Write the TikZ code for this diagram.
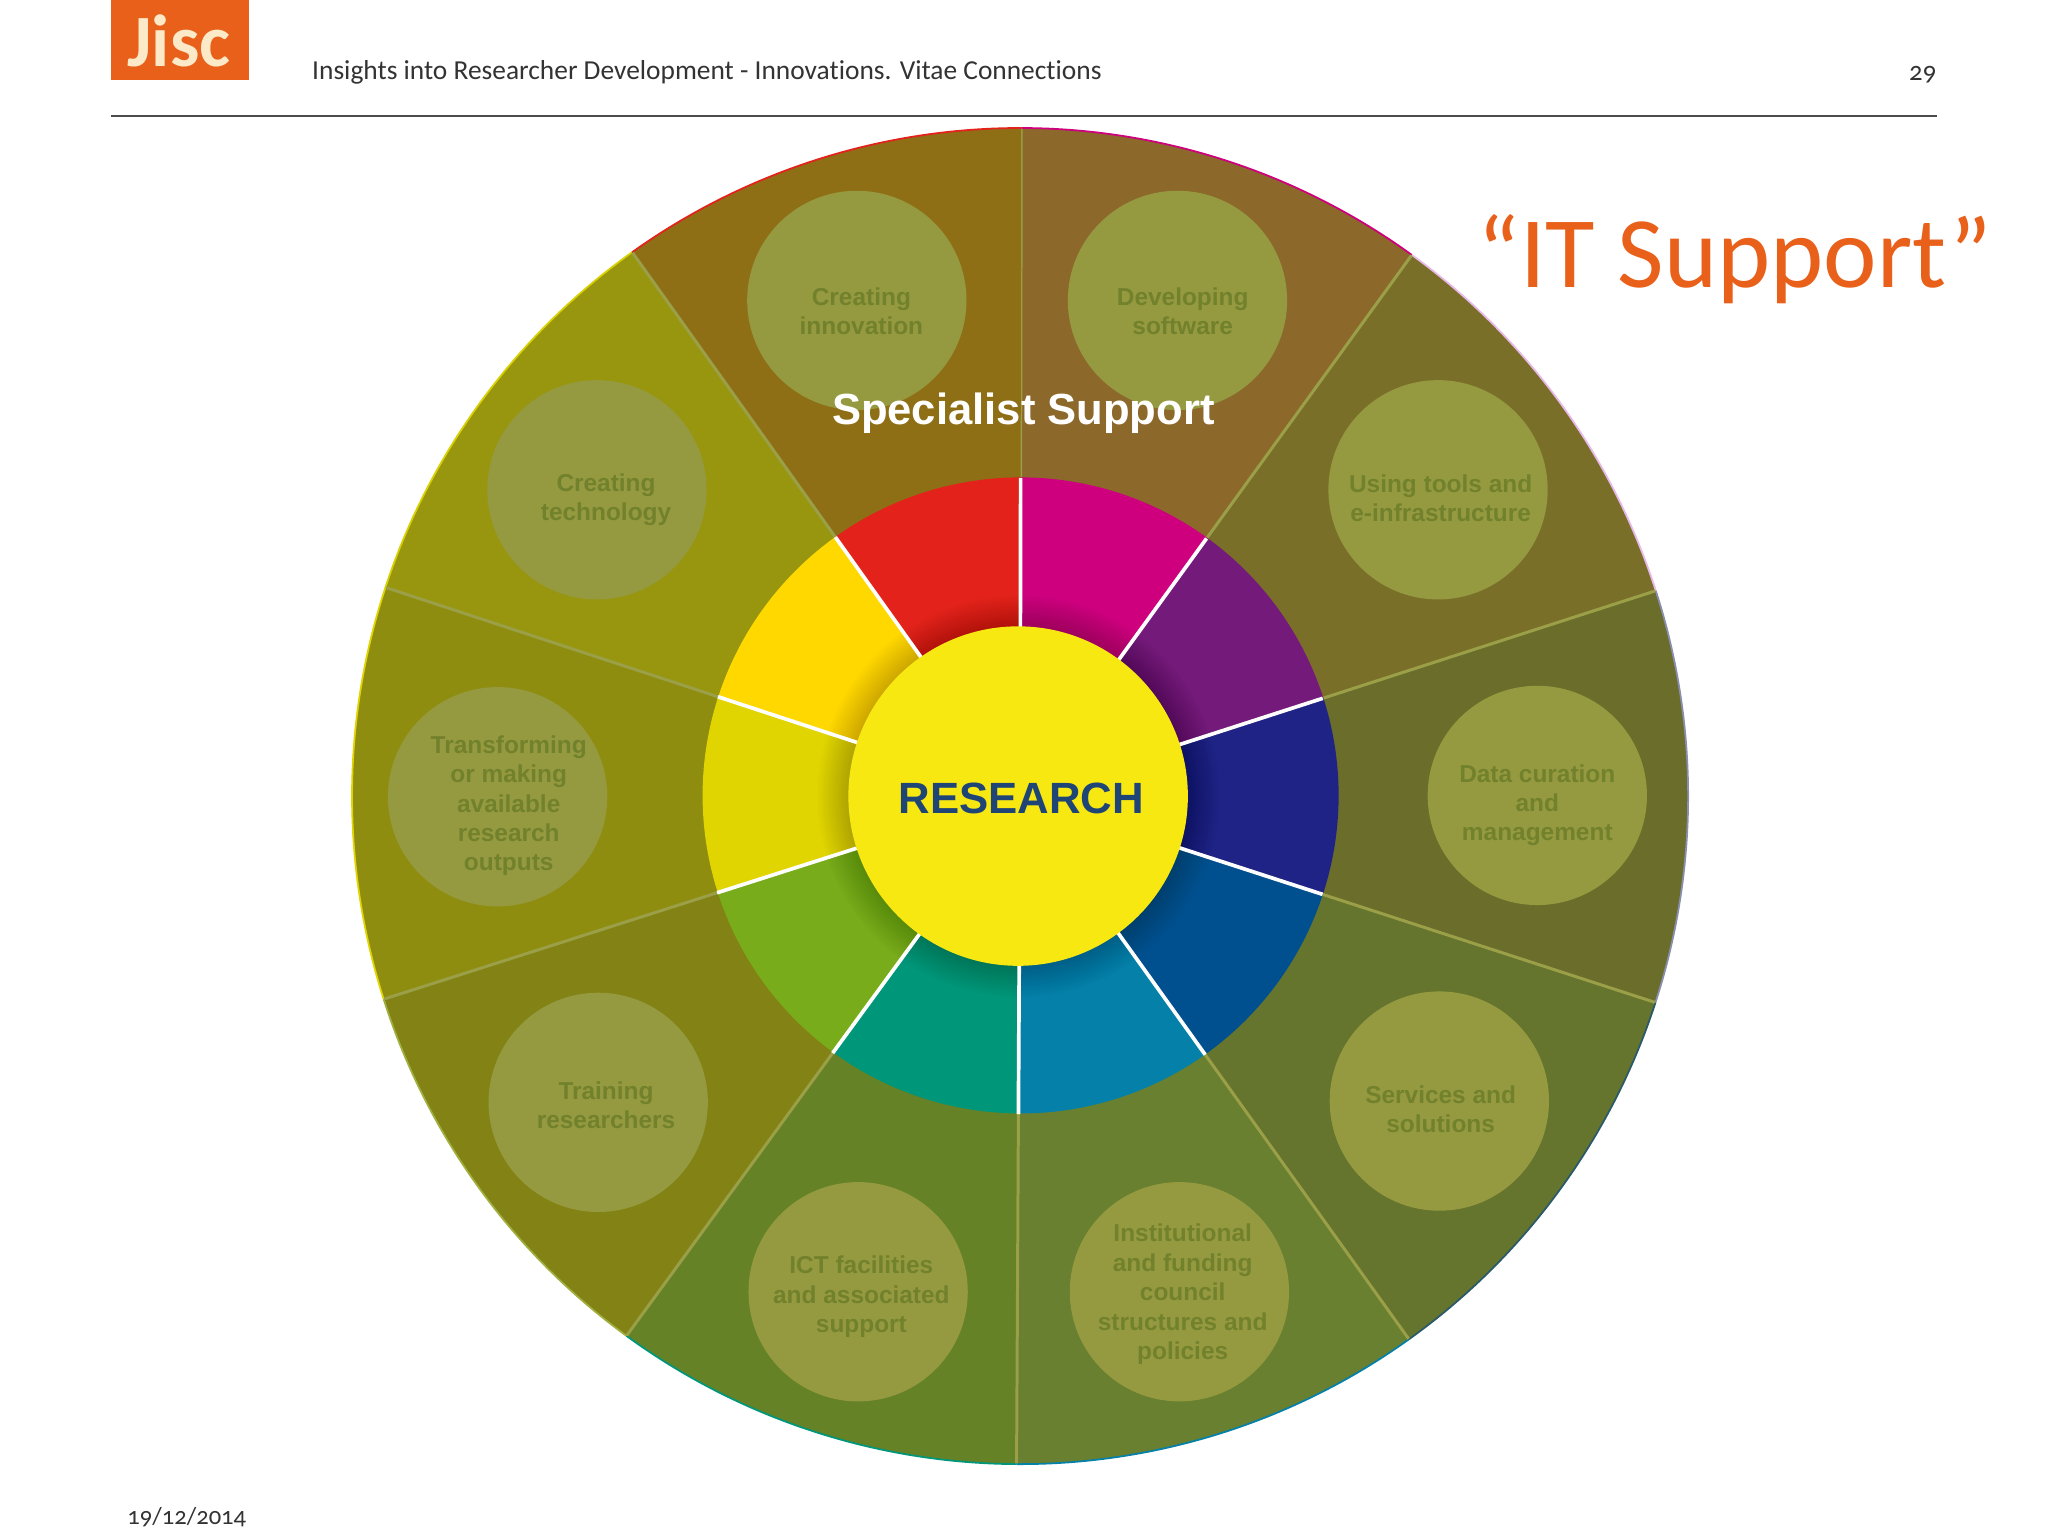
\documentclass[tikz,border=0pt]{standalone}
\usepackage{fontspec}
\usetikzlibrary{calc}
\setmainfont{Liberation Sans}
\newfontfamily\slidefont[Numbers=OldStyle,Ligatures=NoCommon]{Carlito}
\definecolor{orangeJ}{HTML}{E8601A}
\definecolor{creamJ}{HTML}{FBE9C8}
\definecolor{circfill}{HTML}{959A40}
\definecolor{circtext}{HTML}{72812B}
\definecolor{spokeC}{HTML}{9A9F48}
\definecolor{disk}{HTML}{F8E812}
\definecolor{resC}{HTML}{1F4577}
\tikzset{
  topic/.style={circle,fill=circfill,minimum size=62.4pt,inner sep=0pt},
  topiclabel/.style={align=center,text=circtext,font=\fontsize{6.95}{8.35}\selectfont\bfseries,inner sep=0pt},
  slidetext/.style={font=\slidefont\fontsize{7.8}{10}\selectfont,text=black!80,inner sep=0pt},
}
\begin{document}
\begin{tikzpicture}[x=0.013061cm,y=0.013061cm]
\useasboundingbox (0,0) rectangle (1568,-1176);
\fill[white] (0,0) rectangle (1568,-1176);
% wedges of the outer band
\foreach \a/\b/\w/\e in {
  89.9/54.1/8C682B/CE007E,
  54.1/17.9/7A6F28/E9B8E9,
  17.9/-18/6A6E2A/8A8FB0,
  -18/-54.4/66752D/2A5A6A,
  -54.4/-90.3/68802F/0580A8,
  -90.3/-126.1/658226/009679,
  -126.1/-162.3/838214/A0B040,
  -162.3/-198.2/8F8D0F/E0D500,
  -198.2/-234.5/97960E/D8D000,
  -234.5/-270.1/8F6F15/E3231B}{
  \definecolor{wedgeC}{HTML}{\w}\definecolor{rimC}{HTML}{\e}
  \fill[wedgeC] (781,-609.5) -- ++(\a:511.5) arc[start angle=\a,end angle=\b,radius=511.5] -- cycle;
  \draw[rimC,line width=0.5pt] ($(781,-609.5)+(\a:511.5)$) arc[start angle=\a,end angle=\b,radius=511.5];
  \draw[spokeC,line width=0.85pt] ($(781,-609.5)+(\a:240)$) -- ($(781,-609.5)+(\a:511)$);
}
\foreach \a/\b/\r in {
  89.9/54.1/CE007E,
  54.1/17.9/741A7A,
  17.9/-18/1F2385,
  -18/-54.4/00508F,
  -54.4/-90.3/0580A8,
  -90.3/-126.1/009679,
  -126.1/-162.3/78AC1A,
  -162.3/-198.2/E0D500,
  -198.2/-234.5/FFD800,
  -234.5/-270.1/E3231B}{
  \definecolor{ringC}{HTML}{\r}
  \fill[ringC] (781.4,-609) -- ++(\a:243.5) arc[start angle=\a,end angle=\b,radius=243.5] -- cycle;
}
% soft shadow of the centre on the ring
\foreach \i in {1,...,16}{
  \fill[black,opacity=0.013] (780,-609.5) circle[radius=130+\i*1.5];
}
% white spokes of the ring
\foreach \a in {89.9,54.1,17.9,-18,-54.4,-90.3,-126.1,-162.3,-198.2,-234.5}{
  \draw[white,line width=1.05pt] ($(781,-609.5)+(\a:120)$) -- ($(781,-609.5)+(\a:243.5)$);
}
% centre
\node[circle,fill=disk,minimum size=96.6pt,inner sep=0pt] (centre) at (779.5,-609.5) {};
\node[text=resC,font=\fontsize{12.45}{15}\selectfont\bfseries,inner sep=0pt] (research) at (782,-611) {RESEARCH};
% topic circles
\node[topic] (c1) at (656,-230) {};
\node[topic] (c2) at (901.5,-230) {};
\node[topic] (c3) at (1101,-375) {};
\node[topic] (c4) at (1177,-609) {};
\node[topic] (c5) at (1102,-843) {};
\node[topic] (c6) at (903,-989) {};
\node[topic] (c7) at (657,-989) {};
\node[topic] (c8) at (458,-844) {};
\node[topic] (c9) at (381,-610) {};
\node[topic] (c10) at (457,-375) {};
\node[text=white,font=\fontsize{12.4}{15}\selectfont\bfseries,inner sep=0pt] (specialist) at (783.5,-316.5) {Specialist Support};
\node[topiclabel] (t1) at (659.5,-238.5) {Creating\\innovation};
\node[topiclabel] (t2) at (905.5,-238.5) {Developing\\software};
\node[topiclabel] (t3) at (1103,-381.5) {Using tools and\\e-infrastructure};
\node[topiclabel] (t4) at (1177,-616.5) {Data curation\\and\\management};
\node[topiclabel] (t5) at (1103,-849.5) {Services and\\solutions};
\node[topiclabel] (t6) at (905.5,-991) {Institutional\\and funding\\council\\structures and\\policies};
\node[topiclabel] (t7) at (659.5,-993) {ICT facilities\\and associated\\support};
\node[topiclabel] (t8) at (464,-846) {Training\\researchers};
\node[topiclabel] (t9) at (389.5,-617) {Transforming\\or making\\available\\research\\outputs};
\node[topiclabel] (t10) at (464,-382.5) {Creating\\technology};
% slide furniture
\fill[orangeJ] (85,0) rectangle (191,-61);
\node[text=creamJ,font=\slidefont\fontsize{21}{22}\selectfont\bfseries,inner sep=0pt] (jisc) at (137,-31) {Jisc};
\coordinate (ruleL) at (85,-89);
\coordinate (ruleR) at (1483,-89);
\draw[black!70,line width=0.5pt] (ruleL) -- (ruleR);
\node[slidetext,anchor=base west] (hdr) at (238.5,-61) {Insights into Researcher Development - Innovations. Vitae Connections};
\node[slidetext,anchor=base east,font=\slidefont\fontsize{7.6}{10}\selectfont] (page) at (1483,-62) {29};
\node[slidetext,anchor=base west,font=\slidefont\fontsize{7}{10}\selectfont] (date) at (97,-1167) {19/12/2014};
\node[text=orangeJ,font=\slidefont\fontsize{28.8}{32}\selectfont,inner sep=0pt,anchor=base west] (it) at (1131,-220) {“IT Support”};
\end{tikzpicture}
\end{document}
